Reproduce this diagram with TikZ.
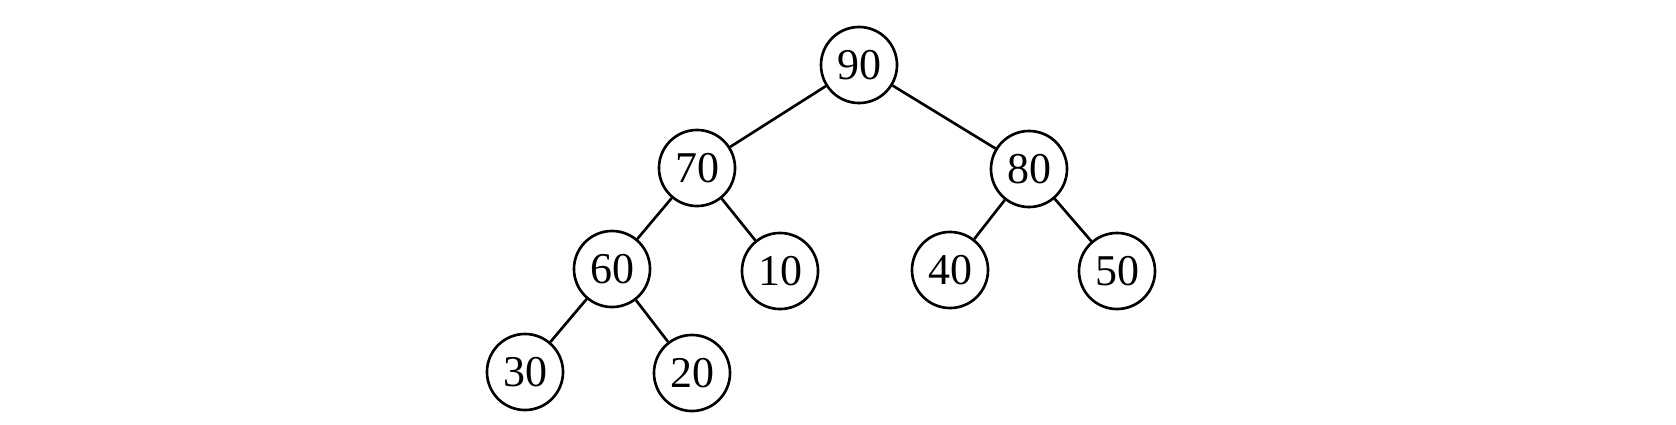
\documentclass[tikz,border=0pt]{standalone}
\usepackage{fontspec}
\setmainfont{Liberation Serif}
\begin{document}
\begin{tikzpicture}[x=0.01cm,y=-0.01cm,
  hnode/.style={circle,draw,line width=0.75pt,minimum size=0.76cm,inner sep=0pt,font=\fontsize{12.5}{14}\selectfont},
  edge/.style={line width=0.75pt}]
\useasboundingbox (0,0) rectangle (1676,424);
\node[hnode] (n90) at (859,65) {90};
\node[hnode] (n70) at (697,168) {70};
\node[hnode] (n80) at (1029,169) {80};
\node[hnode] (n60) at (612,269) {60};
\node[hnode] (n10) at (780,271) {10};
\node[hnode] (n40) at (950,270) {40};
\node[hnode] (n50) at (1117,271) {50};
\node[hnode] (n30) at (525,372) {30};
\node[hnode] (n20) at (692,373) {20};
\draw[edge] (n90) -- (n70);
\draw[edge] (n90) -- (n80);
\draw[edge] (n70) -- (n60);
\draw[edge] (n70) -- (n10);
\draw[edge] (n80) -- (n40);
\draw[edge] (n80) -- (n50);
\draw[edge] (n60) -- (n30);
\draw[edge] (n60) -- (n20);
\end{tikzpicture}
\end{document}
